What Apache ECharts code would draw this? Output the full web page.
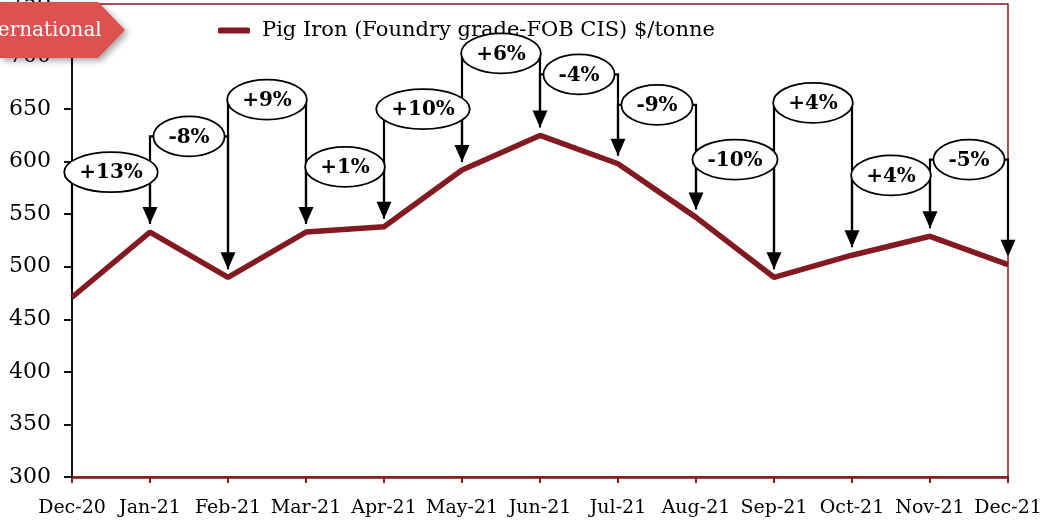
<!DOCTYPE html>
<html><head><meta charset="utf-8">
<script src="https://cdn.jsdelivr.net/npm/echarts@6/dist/echarts.min.js"></script>
<style>html,body{margin:0;padding:0;background:#fff}#c{width:1042px;height:521px}</style>
</head><body><div id="c"></div>
<script>
// ---- data ----
const categories = ['Dec-20','Jan-21','Feb-21','Mar-21','Apr-21','May-21','Jun-21','Jul-21','Aug-21','Sep-21','Oct-21','Nov-21','Dec-21'];
const pigIronPrice = [471, 533, 490, 533, 538, 592, 625, 598, 547, 490, 511, 529, 502];
const changeLabels = ['+13%','-8%','+9%','+1%','+10%','+6%','-4%','-9%','-10%','+4%','+4%','-5%'];
// height (in $/tonne on the value axis) at which each change callout sits
const calloutLevel = [590, 624, 659, 595, 650, 703, 683, 654, 602, 656, 587, 602];
const yMin = 300, yMax = 750, yStep = 50;
const seriesName = 'Pig Iron (Foundry grade-FOB CIS) $/tonne';
const tagText = 'International';

// ---- styling ----
const MAROON = '#841A21';
const SERIF = '"DejaVu Serif", "Liberation Serif", serif';
const BUBBLE_FONT = 'bold 20px ' + SERIF;

const mctx = document.createElement('canvas').getContext('2d');
function textWidth(t, font){ mctx.font = font; return mctx.measureText(t).width; }

const bracketData = changeLabels.map((l, i) => [i, i + 1, pigIronPrice[i], pigIronPrice[i + 1], calloutLevel[i]]);

function renderBracket(params, api){
  const p0 = api.coord([api.value(0), api.value(2)]);
  const p1 = api.coord([api.value(1), api.value(3)]);
  const ly = api.coord([api.value(1), api.value(4)])[1];
  const gap = 8, ah = 17, aw = 7.5;
  return {type:'group', children:[
    {type:'polyline', shape:{points:[[p0[0], p0[1]-gap],[p0[0], ly],[p1[0], ly],[p1[0], p1[1]-gap-ah+1]]},
     style:{stroke:'#000', lineWidth:2.2, fill:null}},
    {type:'polygon', shape:{points:[[p1[0]-aw, p1[1]-gap-ah],[p1[0]+aw, p1[1]-gap-ah],[p1[0], p1[1]-gap]]},
     style:{fill:'#000'}}
  ]};
}
function renderBubble(params, api){
  const i = params.dataIndex;
  const p0 = api.coord([api.value(0), api.value(4)]);
  const p1 = api.coord([api.value(1), api.value(4)]);
  const cx = (p0[0] + p1[0]) / 2, cy = p0[1];
  const label = changeLabels[i];
  const rx = textWidth(label, BUBBLE_FONT) / 2 + 15, ry = 20;
  return {type:'group', children:[
    {type:'ellipse', shape:{cx:cx, cy:cy, rx:rx, ry:ry}, style:{fill:'#fff', stroke:'#000', lineWidth:1.8}},
    {type:'text', style:{text:label, x:cx, y:cy+1, align:'center', verticalAlign:'middle', font:BUBBLE_FONT, fill:'#000'}}
  ]};
}

const chart = echarts.init(document.getElementById('c'), null, {renderer:'canvas'});
chart.setOption({
  animation:false,
  backgroundColor:'#fff',
  grid:{left:72, right:34, top:4, bottom:44, containLabel:false, outerBoundsMode:'none',
        show:true, borderColor:MAROON, borderWidth:1.5, backgroundColor:'transparent'},
  legend:{
    data:[seriesName], left:213, top:15, icon:'roundRect', itemWidth:32, itemHeight:6,
    textStyle:{fontFamily:SERIF, fontSize:21, color:'#000', padding:[0,0,0,7]}
  },
  xAxis:{
    type:'category', data:categories, boundaryGap:false,
    axisLine:{lineStyle:{color:MAROON, width:2.5}},
    axisTick:{show:true, length:6, lineStyle:{color:MAROON, width:2}, alignWithLabel:true},
    axisLabel:{interval:0, color:'#000', fontFamily:SERIF, fontSize:19, margin:22, hideOverlap:false},
    splitLine:{show:false}
  },
  yAxis:{
    type:'value', min:yMin, max:yMax, interval:yStep,
    axisLine:{show:true, lineStyle:{color:'#111', width:2}},
    axisTick:{show:true, length:8, lineStyle:{color:'#111', width:2}},
    axisLabel:{color:'#000', fontFamily:SERIF, fontSize:22, margin:21},
    splitLine:{show:false}
  },
  series:[
    {type:'custom', name:'brackets', coordinateSystem:'cartesian2d', data:bracketData,
     encode:{x:[0,1], y:[2,3,4]}, renderItem:renderBracket, z:2, silent:true},
    {name:seriesName, type:'line', data:pigIronPrice, symbol:'none', z:3,
     lineStyle:{color:MAROON, width:5.5}, itemStyle:{color:MAROON}},
    {type:'custom', name:'bubbles', coordinateSystem:'cartesian2d', data:bracketData,
     encode:{x:[0,1], y:[2,3,4]}, renderItem:renderBubble, z:4, silent:true}
  ],
  graphic:[
    {type:'polygon', z:100, shape:{points:[[0,2],[98,2],[125,30],[98,58],[0,58]]},
     style:{fill:'#DE5151', shadowBlur:6, shadowOffsetX:3, shadowOffsetY:3, shadowColor:'rgba(0,0,0,0.35)'}},
    {type:'text', z:101, x:-31, y:31, style:{text:tagText, fill:'#fff', font:'20px ' + SERIF, verticalAlign:'middle', align:'left'}}
  ]
});
</script>
</body></html>
